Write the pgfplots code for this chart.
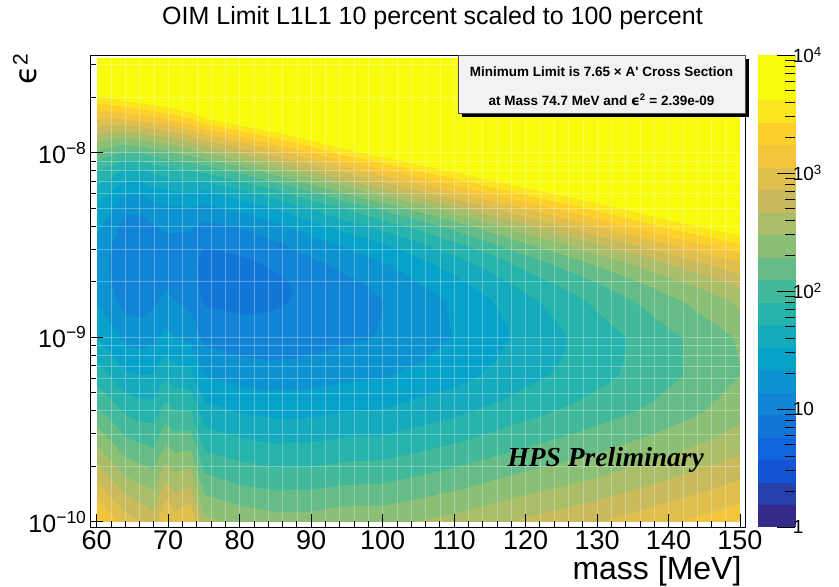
\documentclass[border=0pt]{standalone}
\usepackage{fontspec}
\setmainfont{Liberation Sans}
\newfontfamily\timesfont{Liberation Serif}
\newfontfamily\dejavu{DejaVu Sans}
\usepackage{pgfplots}
\pgfplotsset{compat=1.18}
\usepackage{pgfplotstable}

\pgfplotsset{colormap={rootbird}{
rgb=(0.2082,0.1664,0.5293)
rgb=(0.1455,0.2479,0.6721)
rgb=(0.0827,0.3293,0.8148)
rgb=(0.0641,0.3978,0.8605)
rgb=(0.0721,0.4585,0.8479)
rgb=(0.0722,0.5186,0.8336)
rgb=(0.0492,0.5766,0.8137)
rgb=(0.0261,0.6346,0.7939)
rgb=(0.0810,0.6698,0.7366)
rgb=(0.1471,0.7018,0.6739)
rgb=(0.2540,0.7244,0.6053)
rgb=(0.4013,0.7376,0.5311)
rgb=(0.5454,0.7483,0.4600)
rgb=(0.6668,0.7414,0.4111)
rgb=(0.7883,0.7345,0.3621)
rgb=(0.8745,0.7497,0.3015)
rgb=(0.9490,0.7722,0.2371)
rgb=(0.9926,0.8173,0.1742)
rgb=(0.9845,0.9003,0.1141)
rgb=(0.9764,0.9832,0.0539)
rgb=(0.9764,0.9832,0.0539)
}}

% m = mass [MeV], e = epsilon^2, v = log10(limit / cross section)
\pgfplotstableread{
m e v
60 1e-10 3.30
60 1.585e-10 2.88
60 2.512e-10 2.49
60 3.981e-10 2.13
60 6.310e-10 1.80
60 1e-9 1.51
60 1.585e-9 1.31
60 1.995e-9 1.26
60 2.512e-9 1.25
60 3.162e-9 1.28
60 3.981e-9 1.36
60 5.012e-9 1.48
60 6.310e-9 1.66
60 7.943e-9 1.90
60 1e-8 2.23
60 1.259e-8 2.67
60 1.585e-8 3.11
60 1.995e-8 3.60
60 2.512e-8 4.00
60 3.24e-8 4.00
62 1e-10 3.14
62 1.585e-10 2.73
62 2.512e-10 2.35
62 3.981e-10 2.01
62 6.310e-10 1.68
62 1e-9 1.40
62 1.585e-9 1.19
62 1.995e-9 1.14
62 2.512e-9 1.12
62 3.162e-9 1.14
62 3.981e-9 1.23
62 5.012e-9 1.35
62 6.310e-9 1.53
62 7.943e-9 1.79
62 1e-8 2.14
62 1.259e-8 2.59
62 1.585e-8 3.10
62 1.995e-8 3.64
62 2.512e-8 4.00
62 3.24e-8 4.00
64 1e-10 2.96
64 1.585e-10 2.57
64 2.512e-10 2.20
64 3.981e-10 1.87
64 6.310e-10 1.55
64 1e-9 1.27
64 1.585e-9 1.06
64 1.995e-9 1.00
64 2.512e-9 0.975
64 3.162e-9 0.98
64 3.981e-9 1.06
64 5.012e-9 1.19
64 6.310e-9 1.38
64 7.943e-9 1.66
64 1e-8 2.06
64 1.259e-8 2.57
64 1.585e-8 3.15
64 1.995e-8 3.74
64 2.512e-8 4.00
64 3.24e-8 4.00
66 1e-10 2.86
66 1.585e-10 2.49
66 2.512e-10 2.14
66 3.981e-10 1.82
66 6.310e-10 1.52
66 1e-9 1.25
66 1.585e-9 1.05
66 1.995e-9 0.99
66 2.512e-9 0.965
66 3.162e-9 0.97
66 3.981e-9 1.05
66 5.012e-9 1.18
66 6.310e-9 1.39
66 7.943e-9 1.68
66 1e-8 2.09
66 1.259e-8 2.61
66 1.585e-8 3.20
66 1.995e-8 3.80
66 2.512e-8 4.00
66 3.24e-8 4.00
68 1e-10 2.77
68 1.585e-10 2.43
68 2.512e-10 2.10
68 3.981e-10 1.81
68 6.310e-10 1.53
68 1e-9 1.29
68 1.585e-9 1.11
68 1.995e-9 1.06
68 2.512e-9 1.03
68 3.162e-9 1.05
68 3.981e-9 1.13
68 5.012e-9 1.26
68 6.310e-9 1.47
68 7.943e-9 1.76
68 1e-8 2.17
68 1.259e-8 2.69
68 1.585e-8 3.27
68 1.995e-8 3.86
68 2.512e-8 4.00
68 3.24e-8 4.00
69.5 1e-10 3.11
69.5 1.585e-10 2.71
69.5 2.512e-10 2.33
69.5 3.981e-10 1.99
69.5 6.310e-10 1.67
69.5 1e-9 1.39
69.5 1.585e-9 1.175
69.5 1.995e-9 1.12
69.5 2.512e-9 1.085
69.5 3.162e-9 1.09
69.5 3.981e-9 1.17
69.5 5.012e-9 1.30
69.5 6.310e-9 1.51
69.5 7.943e-9 1.80
69.5 1e-8 2.22
69.5 1.259e-8 2.74
69.5 1.585e-8 3.33
69.5 1.995e-8 3.92
69.5 2.512e-8 4.00
69.5 3.24e-8 4.00
71 1e-10 2.98
71 1.585e-10 2.59
71 2.512e-10 2.24
71 3.981e-10 1.91
71 6.310e-10 1.60
71 1e-9 1.33
71 1.585e-9 1.14
71 1.995e-9 1.08
71 2.512e-9 1.06
71 3.162e-9 1.08
71 3.981e-9 1.17
71 5.012e-9 1.31
71 6.310e-9 1.53
71 7.943e-9 1.85
71 1e-8 2.27
71 1.259e-8 2.80
71 1.585e-8 3.39
71 1.995e-8 3.98
71 2.512e-8 4.00
71 3.24e-8 4.00
73 1e-10 3.08
73 1.585e-10 2.66
73 2.512e-10 2.27
73 3.981e-10 1.91
73 6.310e-10 1.57
73 1e-9 1.28
73 1.585e-9 1.08
73 1.995e-9 1.03
73 2.512e-9 1.02
73 3.162e-9 1.06
73 3.981e-9 1.17
73 5.012e-9 1.33
73 6.310e-9 1.56
73 7.943e-9 1.90
73 1e-8 2.35
73 1.259e-8 2.91
73 1.585e-8 3.50
73 1.995e-8 4.00
73 2.512e-8 4.00
73 3.24e-8 4.00
75 1e-10 2.54
75 1.585e-10 2.20
75 2.512e-10 1.88
75 3.981e-10 1.59
75 6.310e-10 1.32
75 1e-9 1.09
75 1.585e-9 0.93
75 1.995e-9 0.90
75 2.512e-9 0.89
75 3.162e-9 0.96
75 3.981e-9 1.08
75 5.012e-9 1.27
75 6.310e-9 1.53
75 7.943e-9 1.93
75 1e-8 2.45
75 1.259e-8 3.05
75 1.585e-8 3.68
75 1.995e-8 4.00
75 2.512e-8 4.00
75 3.24e-8 4.00
80 1e-10 2.44
80 1.585e-10 2.10
80 2.512e-10 1.80
80 3.981e-10 1.51
80 6.310e-10 1.25
80 1e-9 1.03
80 1.585e-9 0.91
80 1.995e-9 0.89
80 2.512e-9 0.91
80 3.162e-9 1.01
80 3.981e-9 1.15
80 5.012e-9 1.38
80 6.310e-9 1.70
80 7.943e-9 2.14
80 1e-8 2.69
80 1.259e-8 3.31
80 1.585e-8 3.93
80 1.995e-8 4.00
80 2.512e-8 4.00
80 3.24e-8 4.00
85 1e-10 2.38
85 1.585e-10 2.05
85 2.512e-10 1.75
85 3.981e-10 1.47
85 6.310e-10 1.22
85 1e-9 1.02
85 1.585e-9 0.93
85 1.995e-9 0.92
85 2.512e-9 0.98
85 3.162e-9 1.10
85 3.981e-9 1.27
85 5.012e-9 1.53
85 6.310e-9 1.89
85 7.943e-9 2.38
85 1e-8 2.95
85 1.259e-8 3.56
85 1.585e-8 4.00
85 1.995e-8 4.00
85 2.512e-8 4.00
85 3.24e-8 4.00
90 1e-10 2.38
90 1.585e-10 2.06
90 2.512e-10 1.76
90 3.981e-10 1.48
90 6.310e-10 1.24
90 1e-9 1.06
90 1.585e-9 0.99
90 1.995e-9 1.01
90 2.512e-9 1.10
90 3.162e-9 1.23
90 3.981e-9 1.44
90 5.012e-9 1.73
90 6.310e-9 2.13
90 7.943e-9 2.65
90 1e-8 3.22
90 1.259e-8 3.80
90 1.585e-8 4.00
90 1.995e-8 4.00
90 2.512e-8 4.00
90 3.24e-8 4.00
95 1e-10 2.43
95 1.585e-10 2.10
95 2.512e-10 1.80
95 3.981e-10 1.52
95 6.310e-10 1.28
95 1e-9 1.11
95 1.585e-9 1.06
95 1.995e-9 1.10
95 2.512e-9 1.21
95 3.162e-9 1.36
95 3.981e-9 1.60
95 5.012e-9 1.93
95 6.310e-9 2.38
95 7.943e-9 2.92
95 1e-8 3.51
95 1.259e-8 4.00
95 1.585e-8 4.00
95 1.995e-8 4.00
95 2.512e-8 4.00
95 3.24e-8 4.00
100 1e-10 2.43
100 1.585e-10 2.11
100 2.512e-10 1.81
100 3.981e-10 1.54
100 6.310e-10 1.31
100 1e-9 1.16
100 1.585e-9 1.14
100 1.995e-9 1.21
100 2.512e-9 1.32
100 3.162e-9 1.50
100 3.981e-9 1.77
100 5.012e-9 2.14
100 6.310e-9 2.63
100 7.943e-9 3.18
100 1e-8 3.74
100 1.259e-8 4.00
100 1.585e-8 4.00
100 1.995e-8 4.00
100 2.512e-8 4.00
100 3.24e-8 4.00
110 1e-10 2.55
110 1.585e-10 2.24
110 2.512e-10 1.94
110 3.981e-10 1.67
110 6.310e-10 1.45
110 1e-9 1.34
110 1.585e-9 1.36
110 1.995e-9 1.47
110 2.512e-9 1.62
110 3.162e-9 1.84
110 3.981e-9 2.15
110 5.012e-9 2.59
110 6.310e-9 3.10
110 7.943e-9 3.64
110 1e-8 4.00
110 1.259e-8 4.00
110 1.585e-8 4.00
110 1.995e-8 4.00
110 2.512e-8 4.00
110 3.24e-8 4.00
120 1e-10 2.71
120 1.585e-10 2.40
120 2.512e-10 2.10
120 3.981e-10 1.84
120 6.310e-10 1.65
120 1e-9 1.58
120 1.585e-9 1.67
120 1.995e-9 1.80
120 2.512e-9 1.98
120 3.162e-9 2.25
120 3.981e-9 2.61
120 5.012e-9 3.07
120 6.310e-9 3.56
120 7.943e-9 4.00
120 1e-8 4.00
120 1.259e-8 4.00
120 1.585e-8 4.00
120 1.995e-8 4.00
120 2.512e-8 4.00
120 3.24e-8 4.00
130 1e-10 2.85
130 1.585e-10 2.54
130 2.512e-10 2.25
130 3.981e-10 2.00
130 6.310e-10 1.84
130 1e-9 1.81
130 1.585e-9 1.95
130 1.995e-9 2.10
130 2.512e-9 2.32
130 3.162e-9 2.64
130 3.981e-9 3.04
130 5.012e-9 3.49
130 6.310e-9 3.94
130 7.943e-9 4.00
130 1e-8 4.00
130 1.259e-8 4.00
130 1.585e-8 4.00
130 1.995e-8 4.00
130 2.512e-8 4.00
130 3.24e-8 4.00
140 1e-10 3.03
140 1.585e-10 2.72
140 2.512e-10 2.42
140 3.981e-10 2.18
140 6.310e-10 2.05
140 1e-9 2.05
140 1.585e-9 2.24
140 1.995e-9 2.41
140 2.512e-9 2.68
140 3.162e-9 3.04
140 3.981e-9 3.46
140 5.012e-9 3.89
140 6.310e-9 4.00
140 7.943e-9 4.00
140 1e-8 4.00
140 1.259e-8 4.00
140 1.585e-8 4.00
140 1.995e-8 4.00
140 2.512e-8 4.00
140 3.24e-8 4.00
150 1e-10 3.20
150 1.585e-10 2.90
150 2.512e-10 2.62
150 3.981e-10 2.40
150 6.310e-10 2.28
150 1e-9 2.31
150 1.585e-9 2.52
150 1.995e-9 2.73
150 2.512e-9 3.03
150 3.162e-9 3.40
150 3.981e-9 3.80
150 5.012e-9 4.00
150 6.310e-9 4.00
150 7.943e-9 4.00
150 1e-8 4.00
150 1.259e-8 4.00
150 1.585e-8 4.00
150 1.995e-8 4.00
150 2.512e-8 4.00
150 3.24e-8 4.00
}\limittable

\begin{document}
\begin{tikzpicture}[x=1pt,y=1pt]
\path[use as bounding box] (0,0) rectangle (839,587);
\begin{axis}[
  at={(90pt,60pt)}, anchor=south west,
  scale only axis, width=655pt, height=472pt,
  xmin=59.06, xmax=150.7,
  ymode=log, ymin=9.38e-11, ymax=3.38e-8,
  axis on top,
  axis line style={line width=0.8pt},
  tick align=inside,
  xtick pos=left, ytick pos=left,
  xtick={60,70,80,90,100,110,120,130,140,150},
  minor x tick num=4,
  ytick={1e-10,1e-9,1e-8},
  yticklabels={10\textsuperscript{−10},10\textsuperscript{−9},10\textsuperscript{−8}},
  minor ytick={2e-10,3e-10,4e-10,5e-10,6e-10,7e-10,8e-10,9e-10,2e-9,3e-9,4e-9,5e-9,6e-9,7e-9,8e-9,9e-9,2e-8,3e-8},
  grid=both,
  major grid style={draw=white, opacity=0.3, line width=0.5pt},
  minor grid style={draw=white, opacity=0.3, line width=0.5pt},
  major tick length=13pt, minor tick length=6.5pt,
  tick style={black, line width=0.8pt},
  /pgf/number format/assume math mode=true,
  xticklabel style={font=\fontsize{27}{27}\selectfont},
  yticklabel style={font=\fontsize{25}{25}\selectfont},
  point meta min=0, point meta max=4,
  colormap name=rootbird,
  colormap access=piecewise constant,
  colorbar,
  colorbar style={
    at={(parent axis.north east)}, anchor=north west, xshift=4.3pt,
    scale only axis, width=37.4pt, height=472pt,
    grid=none,
    ytick={0,1,2,3,4},
    yticklabels={1,10,10\textsuperscript{2},10\textsuperscript{3},10\textsuperscript{4}},
    minor ytick={0.301,0.477,0.602,0.699,0.778,0.845,0.903,0.954,1.301,1.477,1.602,1.699,1.778,1.845,1.903,1.954,2.301,2.477,2.602,2.699,2.778,2.845,2.903,2.954,3.301,3.477,3.602,3.699,3.778,3.845,3.903,3.954},
    ytick pos=right, yticklabel pos=right,
    tick align=inside,
    major tick length=18pt, minor tick length=10pt,
    tick style={black, line width=0.8pt},
    axis line style={draw=none},
    yticklabel style={font=\fontsize{19}{19}\selectfont, xshift=-6pt},
  },
]
\addplot[surf, shader=interp, mesh/cols=20, point meta=\thisrow{v}] table[x=m, y=e] {\limittable};
\end{axis}
% title and axis titles
\node[anchor=base, font=\fontsize{25}{25}\selectfont] at (432.5,562) {OIM Limit L1L1 10 percent scaled to 100 percent};
\node[anchor=base east, font=\fontsize{32}{32}\selectfont] at (745,8) {mass [MeV]};
\node[rotate=90, anchor=east, font=\fontsize{30}{30}\selectfont] at (25,537) {{\dejavu ϵ}\textsuperscript{2}};
% info box
\fill[black] (462,470) rectangle (749,528);
\filldraw[fill=black!5, draw=black!70, line width=0.6pt] (458,474) rectangle (745,532);
\node[anchor=base, font=\bfseries\fontsize{13.5}{13.5}\selectfont] at (601.5,510.5) {Minimum Limit is 7.65 × A\textquotesingle{} Cross Section};
\node[anchor=base, font=\bfseries\fontsize{13.5}{13.5}\selectfont] at (601.5,481.5) {at Mass 74.7 MeV and {\dejavu ϵ}\textsuperscript{2} = 2.39e-09};
\node[anchor=base west, font=\timesfont\bfseries\itshape\fontsize{27.5}{27.5}\selectfont] at (504,120) {HPS Preliminary};
\end{tikzpicture}
\end{document}
